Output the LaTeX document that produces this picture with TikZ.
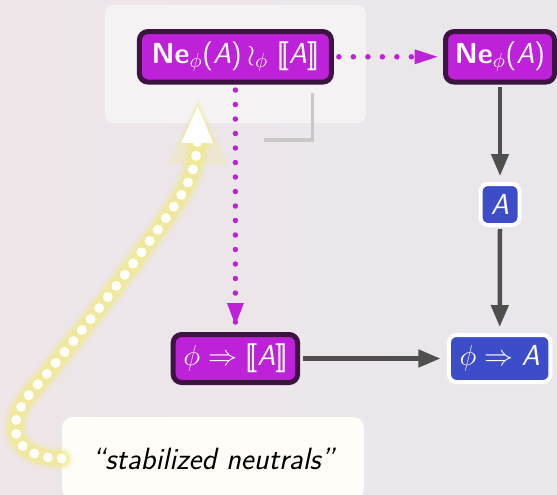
\RequirePackage{fix-cm}
\documentclass[tikz,border=0pt]{standalone}
\usepackage{fontspec}
\usetikzlibrary{arrows.meta}

\definecolor{magnode}{HTML}{BD22D9}
\definecolor{magedge}{HTML}{3D1441}
\definecolor{bluenode}{HTML}{3D4CC8}
\definecolor{arrowgray}{HTML}{4F4F4F}
\definecolor{panelfill}{HTML}{F4F2F2}
\definecolor{bgleft}{HTML}{EEE6E9}
\definecolor{bgright}{HTML}{E9E7EC}
\definecolor{glowyellow}{HTML}{F2EA7C}
\definecolor{labelfill}{HTML}{FEFDF8}
\definecolor{cornergray}{HTML}{C8C8C8}

\newcommand\vA{\textit{A}}
% semantic brackets built from two overlapping square brackets
\newcommand\semL{[\kern-0.13em[}
\newcommand\semR{]\kern-0.13em]}

\tikzset{
  nodefont/.style={font=\sffamily\fontsize{16.5}{19}\selectfont},
  magbox/.style={nodefont, draw=magedge, fill=magnode, line width=0.1cm,
    rounded corners=0.17cm, text=white, inner sep=0pt},
  bluebox/.style={nodefont, draw=white, fill=bluenode, line width=0.08cm,
    rounded corners=0.15cm, text=white, inner sep=0pt},
  labelbox/.style={font=\sffamily\fontsize{17.5}{21}\selectfont, fill=labelfill,
    rounded corners=0.22cm, inner sep=0pt},
  magdots/.style={magnode, line width=0.11cm, line cap=round,
    dash pattern=on 0pt off 0.29cm},
  grayarrow/.style={arrowgray, line width=0.09cm,
    -{Triangle[length=0.44cm,width=0.34cm]}},
  glowline/.style={glowyellow, line cap=round, shorten >=0.7cm},
}

\begin{document}
\begin{tikzpicture}[x=0.02cm,y=-0.02cm]
\useasboundingbox (0,0) rectangle (557,494);
\shade[left color=bgleft, right color=bgright] (0,0) rectangle (557,494);

% backdrop behind the pullback square
\fill[panelfill, rounded corners=0.17cm] (105,5) rectangle (366,123);
\draw[cornergray, line width=0.07cm] (312.6,93) -- (312.6,140) -- (263.6,140);

% objects
\node[magbox, minimum width=3.84cm, minimum height=1.01cm] (pb) at (235.4,56.8)
  {{\bfseries Ne}$_{\phi}$(\vA)\hspace{3pt}$\wr_{\phi}$\hspace{5pt}\semL\vA\semR};
\node[magbox, minimum width=2.18cm, minimum height=1.01cm] (ne) at (500,56.8)
  {{\bfseries Ne}$_{\phi}$(\vA)};
\node[bluebox, minimum width=0.78cm, minimum height=0.82cm] (a) at (500,204.5) {\vA};
\node[bluebox, minimum width=2.03cm, minimum height=0.94cm] (impA) at (499.7,358.5)
  {$\phi\Rightarrow\mbox{\vA}$};
\node[magbox, minimum width=2.49cm, minimum height=0.96cm] (impB) at (235.4,358.5)
  {$\phi\Rightarrow\mbox{\semL\vA\semR}$};
\node[labelbox, minimum width=6.04cm, minimum height=1.66cm] (lab) at (213,458.5)
  {\itshape ``stabilized neutrals''};

% dotted maps out of the pullback
\draw[magdots, shorten <=0.1cm, shorten >=0.11cm] (pb.east) -- (ne.west);
\fill[magnode] ([xshift=-0.11cm]ne.west) -- ++(-0.46cm,0.15cm) -- ++(0,-0.3cm) -- cycle;
\draw[magdots, shorten <=0.11cm, shorten >=0.14cm] (pb.south) -- (impB.north);
\fill[magnode] ([yshift=0.14cm]impB.north) -- ++(-0.17cm,0.44cm) -- ++(0.34cm,0) -- cycle;

% solid maps
\draw[grayarrow, shorten <=0.05cm, shorten >=0.12cm] (ne.south) -- (a.north);
\draw[grayarrow, shorten <=0.04cm, shorten >=0.12cm] (a.south) -- (impA.north);
\draw[grayarrow, shorten <=0.05cm, shorten >=0.13cm] (impB.east) -- (impA.west);

% glowing pointer from the label to the pullback
\coordinate (stab) at (197.8,105);
\foreach \w/\o in {0.5cm/0.12, 0.4cm/0.25, 0.3cm/0.55}{
  \draw[glowline, line width=\w, opacity=\o]
    (lab.west) .. controls (12,458) and (2,425) .. (33,390)
    .. controls (62,357) and (150,245) .. (180,197)
    .. controls (189,182.6) and (197,165) .. (stab);
}
\fill[glowyellow, opacity=0.22] ([yshift=0.1cm]stab) -- ++(-0.62cm,-1.3cm) -- ++(1.24cm,0) -- cycle;
\fill[glowyellow, opacity=0.3] ([yshift=0.05cm]stab) -- ++(-0.4cm,-0.86cm) -- ++(0.8cm,0) -- cycle;
\draw[white, line width=0.2cm, line cap=round, dash pattern=on 0pt off 0.28cm,
      -{Triangle[length=0.76cm,width=0.58cm]}]
    (lab.west) .. controls (12,458) and (2,425) .. (33,390)
    .. controls (62,357) and (150,245) .. (180,197)
    .. controls (189,182.6) and (197,165) .. (stab);
\end{tikzpicture}
\end{document}
